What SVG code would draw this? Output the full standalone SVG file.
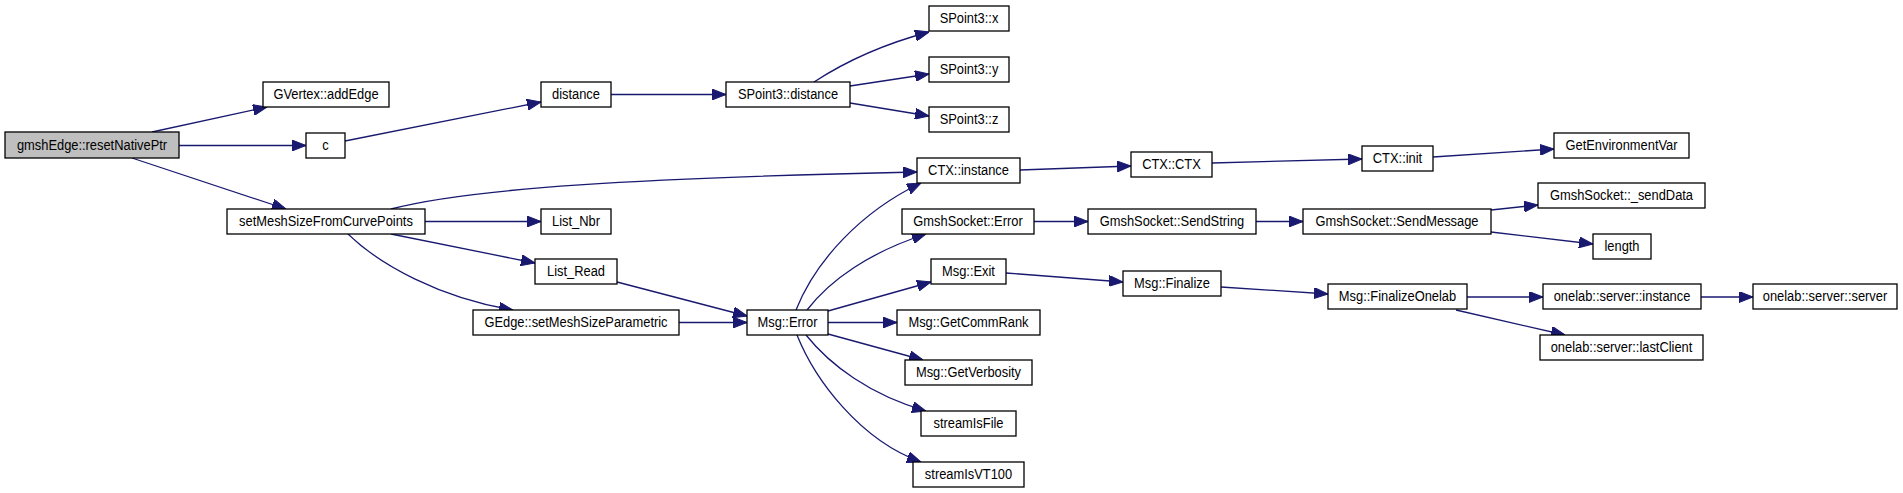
<svg xmlns="http://www.w3.org/2000/svg" width="1903" height="493" viewBox="0 0 1903 493">
<style>
.n rect{fill:#ffffff;stroke:#000000;stroke-width:1.3}
.n.root rect{fill:#bfbfbf}
.n text{font-family:"Liberation Sans",Arial,sans-serif;font-size:14px;fill:#000000;text-anchor:middle;transform-box:fill-box;transform-origin:center;transform:scaleX(0.92)}
.e path{fill:none;stroke:#191970;stroke-width:1.3;marker-end:url(#ah)}
</style>
<defs>
<marker id="ah" markerUnits="userSpaceOnUse" markerWidth="14" markerHeight="11" viewBox="0 0 14 11" refX="14" refY="5.5" orient="auto">
<path d="M0,0 L14,5.5 L0,11 z" fill="#191970" stroke="#191970" stroke-width="1"/>
</marker>
</defs>
<rect width="1903" height="493" fill="#ffffff"/>
<g id="edges" class="e">
<path d="M152,132 L267,107"/>
<path d="M179,145.5 L306,145.5"/>
<path d="M132,158 L286,209"/>
<path d="M345,141 L541,102"/>
<path d="M611,94.5 L726,94.5"/>
<path d="M391,209 C470,188 640,178 917,172"/>
<path d="M425,221.5 L541,221.5"/>
<path d="M391,234 L535,263"/>
<path d="M348,234 C380,265 440,298 513,310"/>
<path d="M617,282 L747,316"/>
<path d="M679,322.5 L747,322.5"/>
<path d="M814,82 C840,65 880,45 929,32"/>
<path d="M850,86 L929,74"/>
<path d="M850,103 L929,116"/>
<path d="M1020,170 L1131,166"/>
<path d="M1212,163 L1362,159"/>
<path d="M1433,157 L1554,149"/>
<path d="M796,310 C815,262 860,212 921,183"/>
<path d="M807,310 C830,280 870,252 926,234"/>
<path d="M828,311 L931,282"/>
<path d="M828,322.5 L897,322.5"/>
<path d="M828,334 L923,360"/>
<path d="M806,335 C830,365 870,395 926,411"/>
<path d="M797,335 C815,380 860,440 921,462"/>
<path d="M1034,221.5 L1088,221.5"/>
<path d="M1256,221.5 L1303,221.5"/>
<path d="M1491,210 L1538,205"/>
<path d="M1491,232 L1593,244"/>
<path d="M1006,273 L1123,282"/>
<path d="M1221,287 L1328,294"/>
<path d="M1467,297 L1543,297"/>
<path d="M1456,310 L1565,335"/>
<path d="M1701,297 L1753,297"/>
</g>
<g id="n1" class="n root"><rect x="5" y="132" width="174" height="26"/><text x="92" y="150">gmshEdge::resetNativePtr</text></g>
<g id="n2" class="n"><rect x="263" y="82" width="126" height="25"/><text x="326" y="99.5">GVertex::addEdge</text></g>
<g id="n3" class="n"><rect x="306" y="133" width="39" height="25"/><text x="325.5" y="150.5">c</text></g>
<g id="n4" class="n"><rect x="227" y="209" width="198" height="25"/><text x="326" y="226.5">setMeshSizeFromCurvePoints</text></g>
<g id="n5" class="n"><rect x="541" y="82" width="70" height="25"/><text x="576" y="99.5">distance</text></g>
<g id="n6" class="n"><rect x="541" y="209" width="70" height="25"/><text x="576" y="226.5">List_Nbr</text></g>
<g id="n7" class="n"><rect x="535" y="259" width="82" height="25"/><text x="576" y="276.5">List_Read</text></g>
<g id="n8" class="n"><rect x="473" y="310" width="206" height="25"/><text x="576" y="327.5">GEdge::setMeshSizeParametric</text></g>
<g id="n9" class="n"><rect x="726" y="82" width="124" height="25"/><text x="788" y="99.5">SPoint3::distance</text></g>
<g id="n10" class="n"><rect x="747" y="310" width="81" height="25"/><text x="787.5" y="327.5">Msg::Error</text></g>
<g id="n11" class="n"><rect x="929" y="6" width="80" height="25"/><text x="969" y="23.5">SPoint3::x</text></g>
<g id="n12" class="n"><rect x="929" y="57" width="80" height="25"/><text x="969" y="74.5">SPoint3::y</text></g>
<g id="n13" class="n"><rect x="929" y="107" width="80" height="25"/><text x="969" y="124.5">SPoint3::z</text></g>
<g id="n14" class="n"><rect x="917" y="158" width="103" height="25"/><text x="968.5" y="175.5">CTX::instance</text></g>
<g id="n15" class="n"><rect x="902" y="209" width="132" height="25"/><text x="968" y="226.5">GmshSocket::Error</text></g>
<g id="n16" class="n"><rect x="931" y="259" width="75" height="25"/><text x="968.5" y="276.5">Msg::Exit</text></g>
<g id="n17" class="n"><rect x="897" y="310" width="143" height="25"/><text x="968.5" y="327.5">Msg::GetCommRank</text></g>
<g id="n18" class="n"><rect x="905" y="360" width="127" height="25"/><text x="968.5" y="377.5">Msg::GetVerbosity</text></g>
<g id="n19" class="n"><rect x="921" y="411" width="95" height="25"/><text x="968.5" y="428.5">streamIsFile</text></g>
<g id="n20" class="n"><rect x="913" y="462" width="111" height="25"/><text x="968.5" y="479.5">streamIsVT100</text></g>
<g id="n21" class="n"><rect x="1131" y="152" width="81" height="25"/><text x="1171.5" y="169.5">CTX::CTX</text></g>
<g id="n22" class="n"><rect x="1088" y="209" width="168" height="25"/><text x="1172" y="226.5">GmshSocket::SendString</text></g>
<g id="n23" class="n"><rect x="1123" y="271" width="98" height="25"/><text x="1172" y="288.5">Msg::Finalize</text></g>
<g id="n24" class="n"><rect x="1362" y="146" width="71" height="25"/><text x="1397.5" y="163.5">CTX::init</text></g>
<g id="n25" class="n"><rect x="1303" y="209" width="188" height="25"/><text x="1397" y="226.5">GmshSocket::SendMessage</text></g>
<g id="n26" class="n"><rect x="1328" y="284" width="139" height="25"/><text x="1397.5" y="301.5">Msg::FinalizeOnelab</text></g>
<g id="n27" class="n"><rect x="1554" y="133" width="135" height="25"/><text x="1621.5" y="150.5">GetEnvironmentVar</text></g>
<g id="n28" class="n"><rect x="1538" y="183" width="167" height="25"/><text x="1621.5" y="200.5">GmshSocket::_sendData</text></g>
<g id="n29" class="n"><rect x="1593" y="234" width="58" height="25"/><text x="1622" y="251.5">length</text></g>
<g id="n30" class="n"><rect x="1543" y="284" width="158" height="25"/><text x="1622" y="301.5">onelab::server::instance</text></g>
<g id="n31" class="n"><rect x="1540" y="335" width="163" height="25"/><text x="1621.5" y="352.5">onelab::server::lastClient</text></g>
<g id="n32" class="n"><rect x="1753" y="284" width="144" height="25"/><text x="1825" y="301.5">onelab::server::server</text></g>
</svg>
